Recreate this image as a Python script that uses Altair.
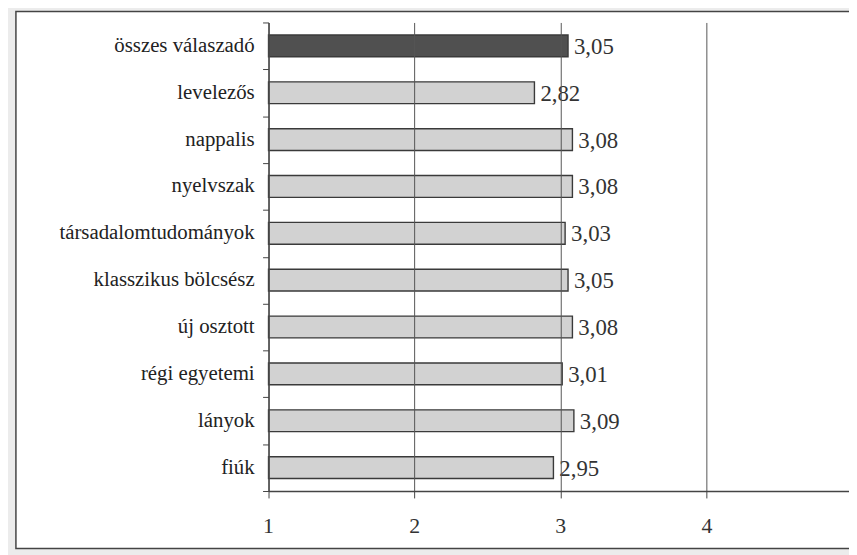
import altair as alt
import pandas as pd

categories = ["összes válaszadó", "levelezős", "nappalis", "nyelvszak",
              "társadalomtudományok", "klasszikus bölcsész", "új osztott",
              "régi egyetemi", "lányok", "fiúk"]
values = [3.05, 2.82, 3.08, 3.08, 3.03, 3.05, 3.08, 3.01, 3.09, 2.95]
labels = ["3,05", "2,82", "3,08", "3,08", "3,03", "3,05", "3,08", "3,01", "3,09", "2,95"]
groups = ["all"] + ["sub"] * 9
x_ticks = [1, 2, 3, 4]
x_tick_labels = ["1", "2", "3", "4"]

df = pd.DataFrame({"cat": categories, "value": values, "label": labels,
                   "grp": groups, "base": [1] * len(values)})
ticks_df = pd.DataFrame({"t": x_ticks, "tl": x_tick_labels})

W, H = 586, 473
FONT = "Liberation Serif"

xs = alt.Scale(domain=[1, 4.973], zero=False, nice=False)
ys = alt.Scale(domain=categories, paddingInner=0, paddingOuter=0)

x_axis = alt.Axis(values=x_ticks, format="d", title=None, grid=True, gridColor="#555",
                  gridWidth=1, gridOpacity=1, domainColor="#444", domainWidth=1.4,
                  tickColor="#444", tickSize=7, labels=False, zindex=1)
y_axis = alt.Axis(title=None, tickBand="extent", domainColor="#444",
                  domainWidth=1.4, tickColor="#444", tickSize=6,
                  labels=False, zindex=1)

frame = alt.Chart(df.head(1)).mark_rect(
    fill="white", stroke="#444", strokeWidth=1.5, clip=False
).encode(
    x=alt.value(-255), x2=alt.value(W + 20),
    y=alt.value(-11), y2=alt.value(531)
)

bars = alt.Chart(df).mark_bar(size=22, stroke="#3a3a3a", strokeWidth=1.4).encode(
    x=alt.X("value:Q", scale=xs, axis=x_axis),
    x2="base:Q",
    y=alt.Y("cat:N", scale=ys, sort=categories, axis=y_axis),
    color=alt.Color("grp:N", scale=alt.Scale(domain=["all", "sub"],
                                             range=["#505050", "#d2d2d2"]), legend=None),
)

text = alt.Chart(df).mark_text(align="left", baseline="middle", dx=6, dy=1,
                               font=FONT, fontSize=23, color="#333").encode(
    x=alt.X("value:Q", scale=xs, axis=x_axis),
    y=alt.Y("cat:N", scale=ys, sort=categories, axis=y_axis),
    text="label:N",
)

cat_labels = alt.Chart(df).mark_text(align="right", baseline="middle", dy=0,
                                     font=FONT, fontSize=21, color="#222",
                                     clip=False).encode(
    x=alt.value(-14),
    y=alt.Y("cat:N", scale=ys, sort=categories, axis=y_axis),
    text="cat:N",
)

xlab = alt.Chart(ticks_df).mark_text(align="center", baseline="middle",
                                     font=FONT, fontSize=22, color="#333",
                                     clip=False).encode(
    x=alt.X("t:Q", scale=xs, axis=x_axis),
    y=alt.value(H + 35),
    text="tl:N",
)

chart = alt.layer(frame, bars, text, cat_labels, xlab).properties(
    width=W, height=H,
    autosize=alt.AutoSizeParams(type="none"),
    padding={"left": 263, "top": 12, "right": 0, "bottom": 62},
    background="#ececec",
).configure_view(stroke=None)

chart.save("out.html", embed_options={"renderer": "svg", "actions": False})
